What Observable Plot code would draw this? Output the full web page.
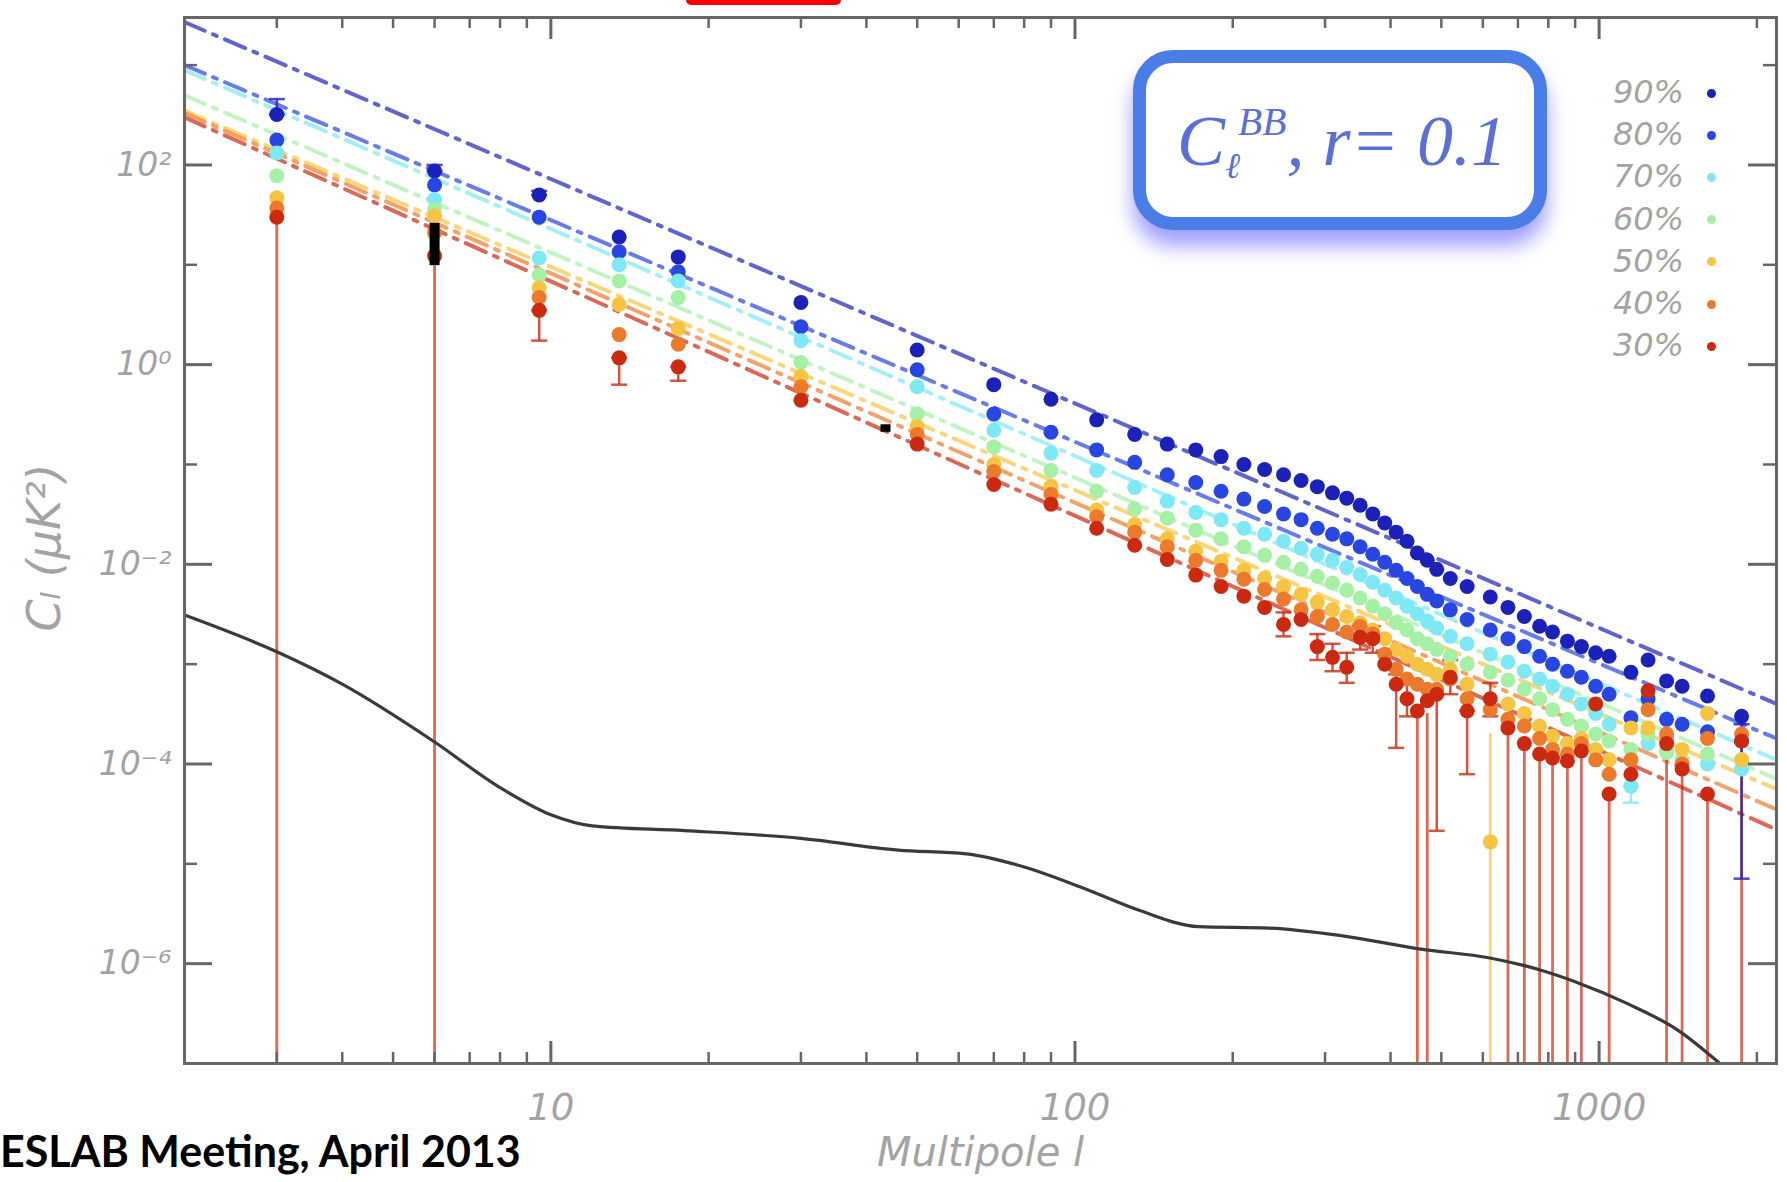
<!DOCTYPE html>
<html><head><meta charset="utf-8">
<script src="https://cdn.jsdelivr.net/npm/d3@7"></script>
<script src="https://cdn.jsdelivr.net/npm/@observablehq/plot@0.6"></script>
<style>
html,body{margin:0;padding:0;background:#fff;}
#wrap{position:relative;width:1787px;height:1182px;overflow:hidden;background:#fff;}
#chart svg{display:block;}
.redtab{position:absolute;left:686px;top:-12px;width:155px;height:17px;background:#ff0000;border-radius:5px;}
.titlebox{position:absolute;left:1133px;top:50px;width:388px;height:154px;border:13px solid #4a7de6;border-radius:40px;box-shadow:0 16px 20px rgba(95,95,255,0.6);background:#fff;}
.titletext{position:absolute;left:1177px;top:106px;font-family:"Liberation Serif","DejaVu Serif",serif;font-style:italic;font-size:72px;line-height:70px;color:#5b6fd4;white-space:nowrap;}
.titletext .sb{font-size:0.5em;position:relative;top:0.35em;}
.titletext .sp{font-size:0.55em;position:relative;top:-0.75em;margin-left:-0.05em;}
.leg{position:absolute;font-family:"DejaVu Sans",sans-serif;font-style:italic;font-size:32px;color:#a3a3a3;line-height:32px;}
.legdot{position:absolute;width:9px;height:9px;border-radius:50%;}
.caption{position:absolute;left:0px;top:1129px;font-family:Lato,"Open Sans",sans-serif;font-weight:700;font-size:43px;line-height:43px;color:#000;white-space:nowrap;}
</style>
</head><body>
<div id="wrap">
  <div id="chart"></div>
  <div class="redtab"></div>
  <div class="titlebox"></div>
  <div class="titletext">C<span class="sb">ℓ</span><span class="sp">BB</span>, r= 0.1</div>
  <div id="legend"></div>
  <div class="caption">ESLAB Meeting, April 2013</div>
</div>
<script>
// ---------- data ----------
const seriesNames = ["90%","80%","70%","60%","50%","40%","30%"];
const seriesColors = ["#1c22b8","#2a46e0","#7ee8f4","#a6f0a6","#f6c445","#ec7a2c","#cc2a10"];

const ell = [3, 6, 9.5, 13.5, 17.5, 30, 50, 70, 90, 110, 130, 150, 170, 190, 210, 230, 250, 270, 290, 310, 330, 350, 370, 390, 410, 430, 450, 470, 490, 520, 560, 620, 670, 720, 770, 815, 870, 925, 985, 1045, 1150, 1240, 1345, 1440, 1610, 1870];

const C90 = [320, 87, 50, 19, 12, 4.2, 1.4, 0.63, 0.45, 0.28, 0.20, 0.16, 0.14, 0.12, 0.10, 0.089, 0.079, 0.069, 0.060, 0.052, 0.046, 0.039, 0.032, 0.026, 0.021, 0.017, 0.013, 0.011, 8.9e-3, 7.2e-3, 6.0e-3, 4.7e-3, 3.7e-3, 3.0e-3, 2.4e-3, 2.1e-3, 1.7e-3, 1.5e-3, 1.3e-3, 1.2e-3, 8.3e-4, 1.1e-3, 6.8e-4, 6.0e-4, 4.8e-4, 3.0e-4];
const C80 = [178, 63, 30, 13.5, 8.5, 2.4, 0.89, 0.32, 0.21, 0.14, 0.105, 0.079, 0.066, 0.054, 0.045, 0.038, 0.032, 0.028, 0.023, 0.020, 0.018, 0.015, 0.0126, 0.0105, 8.7e-3, 7.2e-3, 6.0e-3, 5.0e-3, 4.3e-3, 3.5e-3, 2.8e-3, 2.2e-3, 1.8e-3, 1.5e-3, 1.2e-3, 1.0e-3, 8.5e-4, 7.4e-4, 6.0e-4, 5.0e-4, 2.9e-4, 4.5e-4, 2.8e-4, 2.5e-4, 2.1e-4, 1.7e-4];
const C70 = [132, 45, 11.7, 10, 6.9, 1.74, 0.60, 0.22, 0.13, 0.087, 0.059, 0.043, 0.033, 0.028, 0.023, 0.020, 0.017, 0.0145, 0.0126, 0.011, 9.3e-3, 7.9e-3, 6.6e-3, 5.5e-3, 4.6e-3, 3.8e-3, 3.2e-3, 2.7e-3, 2.3e-3, 1.9e-3, 1.6e-3, 1.26e-3, 1.05e-3, 8.5e-4, 7.1e-4, 6.0e-4, 5.0e-4, 4.0e-4, 3.2e-4, 2.5e-4, 6.0e-5, 1.6e-4, 1.4e-4, 1.1e-4, 1.0e-4, 8.9e-5];
const C60 = [78, 36, 7.9, 6.9, 4.7, 1.05, 0.32, 0.15, 0.087, 0.054, 0.036, 0.029, 0.022, 0.018, 0.015, 0.0123, 0.0105, 8.9e-3, 7.6e-3, 6.5e-3, 5.5e-3, 4.6e-3, 3.8e-3, 3.2e-3, 2.6e-3, 2.2e-3, 1.8e-3, 1.6e-3, 1.4e-3, 1.2e-3, 1.0e-3, 8.3e-4, 6.9e-4, 5.6e-4, 4.5e-4, 3.5e-4, 2.8e-4, 2.4e-4, 2.0e-4, 1.7e-4, 1.4e-4, 2.0e-4, 1.3e-4, 1.1e-4, 1.26e-4, 1.1e-4];
const C50 = [47, 31, 5.9, 4.0, 2.3, 0.76, 0.24, 0.10, 0.060, 0.035, 0.025, 0.018, 0.0135, 0.0107, 8.7e-3, 7.2e-3, 6.0e-3, 5.0e-3, 4.2e-3, 3.5e-3, 3.0e-3, 2.6e-3, 2.2e-3, 1.8e-3, 1.4e-3, 1.2e-3, 1.0e-3, 8.9e-4, 7.9e-4, 8.9e-4, 6.3e-4, 1.66e-5, 4.0e-4, 3.2e-4, 2.4e-4, 1.9e-4, 1.6e-4, 1.8e-4, 1.4e-4, 1.1e-4, 2.3e-4, 2.3e-4, 1.8e-4, 1.4e-4, 3.2e-4, 1.1e-4];
const C40 = [37, 21, 4.7, 2.0, 1.6, 0.60, 0.20, 0.085, 0.050, 0.030, 0.021, 0.015, 0.011, 8.7e-3, 7.1e-3, 5.6e-3, 4.5e-3, 3.5e-3, 3.0e-3, 2.5e-3, 2.1e-3, 2.4e-3, 2.0e-3, 1.26e-3, 8.9e-4, 7.1e-4, 6.3e-4, 5.6e-4, 5.6e-4, 7.1e-4, 4.5e-4, 3.5e-4, 2.8e-4, 2.4e-4, 1.8e-4, 1.4e-4, 1.26e-4, 1.6e-4, 1.1e-4, 7.9e-5, 1.1e-4, 3.5e-4, 2.0e-4, 1.0e-4, 1.8e-4, 2.0e-4];
const C30 = [30, 12.3, 3.5, 1.17, 0.95, 0.44, 0.16, 0.063, 0.040, 0.023, 0.0155, 0.0112, 7.8e-3, 6.0e-3, 4.8e-3, 3.7e-3, 2.5e-3, 2.8e-3, 1.5e-3, 1.17e-3, 9.3e-4, 1.86e-3, 1.8e-3, 1.0e-3, 6.3e-4, 4.5e-4, 3.4e-4, 4.3e-4, 5.0e-4, 7.4e-4, 3.4e-4, 4.5e-4, 2.3e-4, 1.6e-4, 1.26e-4, 1.15e-4, 1.07e-4, 1.35e-4, 4.0e-4, 5.0e-5, 7.9e-5, 5.4e-4, 1.6e-4, 8.9e-5, 5.0e-5, 1.7e-4];

// dash-dot power-law fits: value at each end of the multipole range
const fitEll = [2, 2180];
const fitStart = [2.7e3, 1.0e3, 8.9e2, 5.0e2, 3.5e2, 3.3e2, 3.0e2];
const fitEnd = [4.0e-4, 1.8e-4, 1.1e-4, 7.1e-5, 5.6e-5, 3.5e-5, 2.2e-5];

// black reference curve
const curveEll = [2, 3, 4, 6, 8, 10, 12, 18, 30, 46, 62, 80, 103, 133, 172, 235, 324, 457, 619, 775, 900, 1130, 1415, 1700];
const curveC = [3.1e-3, 1.33e-3, 6.3e-4, 1.66e-4, 5.8e-5, 3.1e-5, 2.4e-5, 2.15e-5, 1.8e-5, 1.37e-5, 1.26e-5, 9.3e-6, 5.8e-6, 3.4e-6, 2.35e-6, 2.27e-6, 1.9e-6, 1.4e-6, 1.14e-6, 8.6e-7, 6.6e-7, 4.0e-7, 2.15e-7, 1.0e-7];

// error bars whose lower end reaches zero (drawn down to the axis)
const dropEll = [3, 6, 450, 470, 620, 670, 720, 770, 815, 870, 925, 1045, 1345, 1440, 1610, 1870];
const dropTop = [30, 9.8, 3.4e-4, 3.2e-4, 2.0e-4, 2.3e-4, 1.4e-4, 1.4e-4, 1.1e-4, 1.1e-4, 1.26e-4, 5.0e-5, 1.4e-4, 8.9e-5, 5.0e-5, 1.6e-4];
const dropSeries = ["30%","30%","30%","30%","50%","30%","30%","30%","30%","30%","30%","30%","30%","30%","30%","30%"];

// capped error bars
const errEll = [3, 6, 9.5, 9.5, 13.5, 17.5, 250, 290, 310, 330, 350, 370, 410, 430, 490, 520, 560, 620, 1150, 1870];
const errLo = [320, 87, 50, 1.74, 0.63, 0.69, 1.9e-3, 1.1e-3, 8.5e-4, 6.5e-4, 1.4e-3, 1.3e-3, 1.45e-4, 3.0e-4, 2.14e-5, 5.0e-4, 7.9e-5, 3.0e-4, 4.1e-5, 7.1e-6];
const errHi = [457, 100, 55, 3.5, 1.17, 0.95, 3.3e-3, 2.0e-3, 1.6e-3, 1.3e-3, 2.4e-3, 2.4e-3, 7.9e-4, 6.5e-4, 5.0e-4, 1.1e-3, 3.4e-4, 6.5e-4, 6.0e-5, 2.5e-4];
const errSeries = ["90%","90%","90%","30%","30%","30%","30%","30%","30%","30%","30%","30%","30%","30%","30%","30%","30%","30%","70%","90%"];

// black points
const blackEll = [6, 43.5];
const blackLo = [9.8, 0.21];
const blackHi = [26, 0.25];

// axes
const xMajor = [10, 100, 1000];
const xMajorLabels = ["10", "100", "1000"];
const xMinor = [3,4,5,6,7,8,9,20,30,40,50,60,70,80,90,200,300,400,500,600,700,800,900,2000];
const yMajor = [1e2, 1, 1e-2, 1e-4, 1e-6];
const yMajorLabels = ["10²", "10⁰", "10⁻²", "10⁻⁴", "10⁻⁶"];
const yMinor = [1e3, 1e1, 1e-1, 1e-3, 1e-5];
const xDomain = [2, 2180];
const yDomain = [1e-7, 3000];

// ---------- tables ----------
const allC = [C90, C80, C70, C60, C50, C40, C30];
const points = seriesNames.flatMap((s, i) => ell.map((l, j) => ({ell: l, C: allC[i][j], s})));
const fits = seriesNames.flatMap((s, i) => [{ell: fitEll[0], C: fitStart[i], s}, {ell: fitEll[1], C: fitEnd[i], s}]);
const curve = curveEll.map((l, i) => ({ell: l, C: curveC[i]}));
const drops = dropEll.map((l, i) => ({ell: l, top: dropTop[i], s: dropSeries[i]}));
const errs = errEll.map((l, i) => ({ell: l, lo: errLo[i], hi: errHi[i], s: errSeries[i]}));
const caps = errs.flatMap(e => [{ell: e.ell, v: e.lo, s: e.s}, {ell: e.ell, v: e.hi, s: e.s}]);
const blacks = blackEll.map((l, i) => ({ell: l, lo: blackLo[i], hi: blackHi[i]}));

const W = 1787, H = 1182, mL = 184, mR = 11, mT = 17, mB = 119;
const fw = W - mL - mR, fh = H - mT - mB;
const axisColor = "#666";
const labelColor = "#a3a3a3";
const capSymbol = {draw(ctx, size) { const w = Math.sqrt(size / Math.PI) * 1.6; ctx.moveTo(-w, 0); ctx.lineTo(w, 0); }};

const chart = Plot.plot({
  width: W, height: H,
  marginLeft: mL, marginRight: mR, marginTop: mT, marginBottom: mB,
  style: {background: "transparent", fontFamily: "'DejaVu Sans', sans-serif"},
  x: {type: "log", domain: xDomain, axis: null},
  y: {type: "log", domain: yDomain, axis: null},
  color: {domain: seriesNames, range: seriesColors},
  marks: [
    Plot.line(fits, {x: "ell", y: "C", z: "s", stroke: "s", strokeWidth: 4, strokeOpacity: 0.7, strokeDasharray: "22,9,4,9", clip: true}),
    Plot.ruleX(drops, {x: "ell", y1: yDomain[0], y2: "top", stroke: "s", strokeOpacity: 0.7, strokeWidth: 2.8}),
    Plot.line(curve, {x: "ell", y: "C", stroke: "#3a3a3a", strokeWidth: 3.2, curve: "monotone-x", clip: true}),
    Plot.ruleX(errs, {x: "ell", y1: "lo", y2: "hi", stroke: "s", strokeOpacity: 0.8, strokeWidth: 2.5}),
    Plot.dot(caps, {x: "ell", y: "v", r: 5, symbol: capSymbol, stroke: "s", strokeOpacity: 0.8, strokeWidth: 2.5, fill: "none"}),
    Plot.dot(points, {x: "ell", y: "C", fill: "s", r: 7.5}),
    Plot.ruleX(blacks, {x: "ell", y1: "lo", y2: "hi", stroke: "#000", strokeWidth: 10}),
    // ticks (inward, all four sides)
    Plot.ruleX(xMajor, {x: d => d, insetTop: fh - 22, stroke: axisColor, strokeWidth: 3}),
    Plot.ruleX(xMajor, {x: d => d, insetBottom: fh - 22, stroke: axisColor, strokeWidth: 3}),
    Plot.ruleX(xMinor, {x: d => d, insetTop: fh - 11, stroke: axisColor, strokeWidth: 2.5}),
    Plot.ruleX(xMinor, {x: d => d, insetBottom: fh - 11, stroke: axisColor, strokeWidth: 2.5}),
    Plot.ruleY(yMajor, {y: d => d, insetRight: fw - 28, stroke: axisColor, strokeWidth: 3}),
    Plot.ruleY(yMajor, {y: d => d, insetLeft: fw - 28, stroke: axisColor, strokeWidth: 3}),
    Plot.ruleY(yMinor, {y: d => d, insetRight: fw - 13, stroke: axisColor, strokeWidth: 2.5}),
    Plot.ruleY(yMinor, {y: d => d, insetLeft: fw - 13, stroke: axisColor, strokeWidth: 2.5}),
    Plot.frame({stroke: axisColor, strokeWidth: 3}),
    // tick labels
    Plot.text(xMajor, {x: d => d, text: (d, i) => xMajorLabels[i], frameAnchor: "bottom", lineAnchor: "middle", dy: 45, fontSize: 37, fontStyle: "italic", fill: labelColor}),
    Plot.text(yMajor, {y: d => d, text: (d, i) => yMajorLabels[i], frameAnchor: "left", lineAnchor: "middle", dx: -13, textAnchor: "end", fontSize: 33, fontStyle: "italic", fill: labelColor}),
    // axis titles
    Plot.text(["Multipole l"], {text: d => d, frameAnchor: "bottom", lineAnchor: "middle", textAnchor: "middle", dy: 90, fontSize: 40, fontStyle: "italic", fill: labelColor}),
    Plot.text(["Cₗ (μK²)"], {text: d => d, frameAnchor: "left", lineAnchor: "middle", textAnchor: "middle", dx: -139, dy: 7, rotate: -90, fontSize: 46, fontStyle: "italic", fill: labelColor})
  ]
});
document.getElementById("chart").appendChild(chart);

// legend (built from series names/colours)
const legend = document.getElementById("legend");
seriesNames.forEach((s, i) => {
  const yc = 93 + i * 42.2;
  const t = document.createElement("div");
  t.className = "leg";
  t.textContent = s;
  t.style.right = (1787 - 1684) + "px";
  t.style.top = (yc - 17) + "px";
  legend.appendChild(t);
  const d = document.createElement("div");
  d.className = "legdot";
  d.style.left = (1711 - 4.5) + "px";
  d.style.top = (yc - 4.5) + "px";
  d.style.background = seriesColors[i];
  legend.appendChild(d);
});
</script>
</body></html>
